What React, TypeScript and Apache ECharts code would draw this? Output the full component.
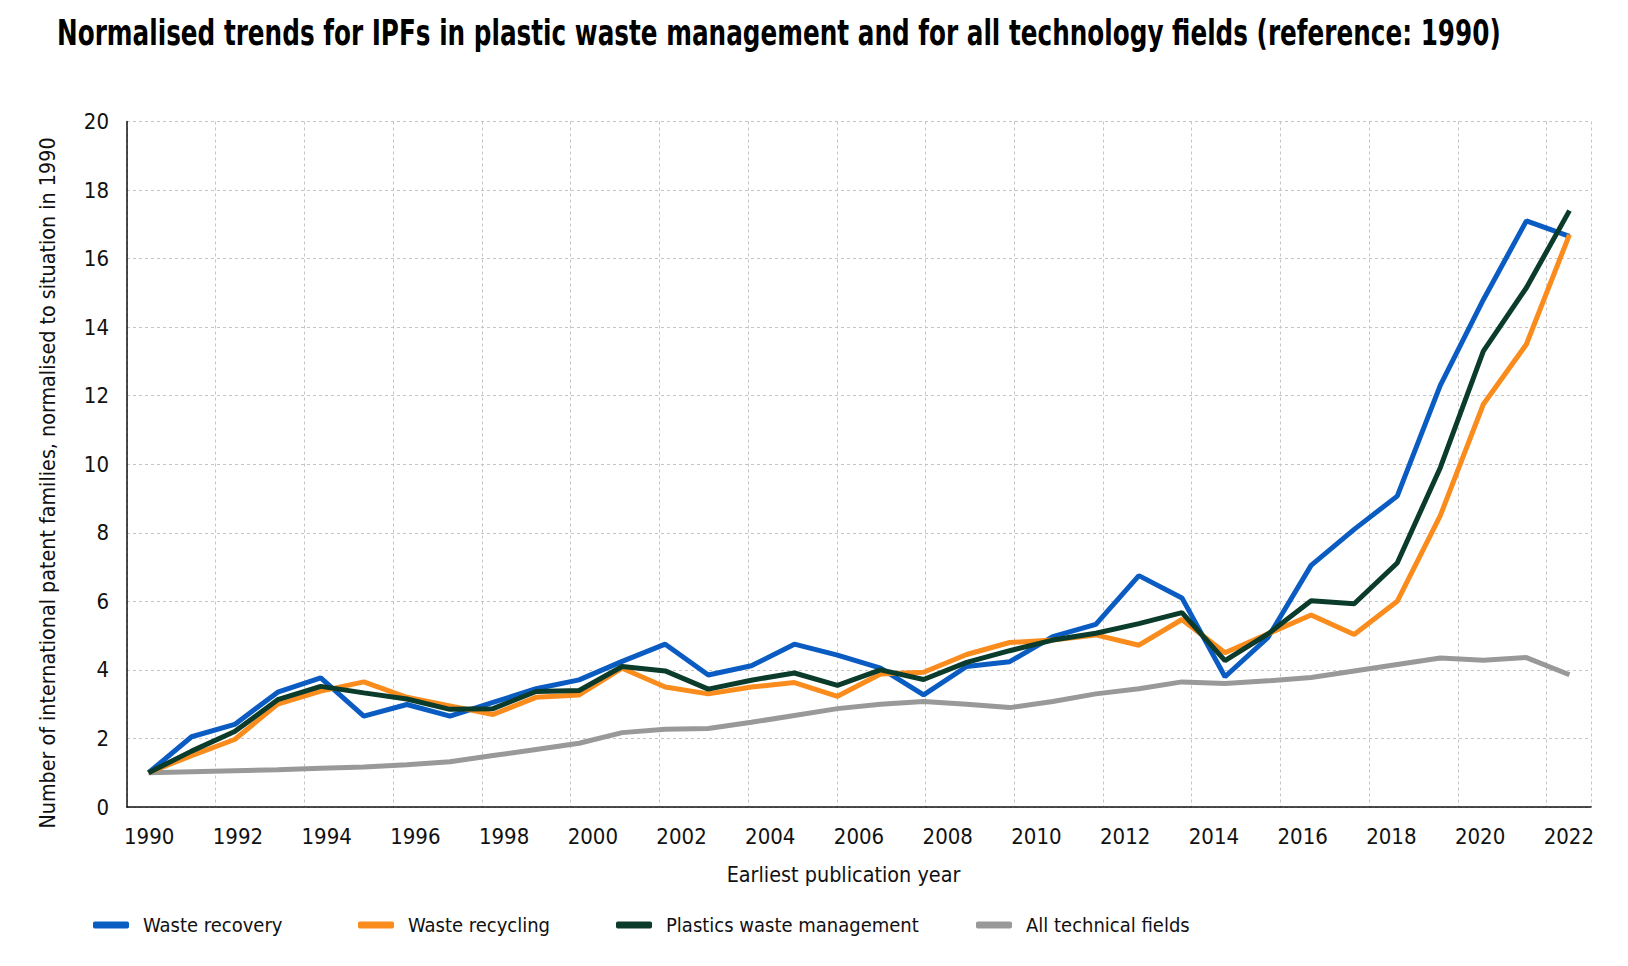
import { useEffect, useRef } from "react";
import * as echarts from "echarts";

// Points plotted (34 vertices per line)
const dataYears = [
  "1990", "1991", "1992", "1993", "1994", "1995", "1996", "1997", "1998", "1999",
  "2000", "2001", "2002", "2003", "2004", "2005", "2006", "2007", "2008", "2009",
  "2010", "2011", "2012", "2013", "2014", "2015", "2016", "2017", "2018", "2019",
  "2020", "2021", "2022", "2023",
];

// Year scale drawn under the plot
const axisYears = [
  "1990", "1991", "1992", "1993", "1994", "1995", "1996", "1997", "1998", "1999",
  "2000", "2001", "2002", "2003", "2004", "2005", "2006", "2007", "2008", "2009",
  "2010", "2011", "2012", "2013", "2014", "2015", "2016", "2017", "2018", "2019",
  "2020", "2021", "2022",
];

const wasteRecovery = [
  1.0, 2.05, 2.41, 3.35, 3.77, 2.65, 2.99, 2.65, 3.05, 3.45,
  3.71, 4.25, 4.75, 3.85, 4.12, 4.75, 4.43, 4.05, 3.27, 4.1,
  4.24, 4.97, 5.33, 6.75, 6.1, 3.8, 4.95, 7.05, 8.1, 9.07,
  12.3, 14.8, 17.1, 16.65,
];

const wasteRecycling = [
  1.0, 1.5, 1.97, 3.0, 3.38, 3.65, 3.2, 2.95, 2.7, 3.2,
  3.27, 4.05, 3.5, 3.3, 3.5, 3.63, 3.23, 3.88, 3.93, 4.45,
  4.8, 4.87, 5.02, 4.72, 5.47, 4.5, 5.05, 5.6, 5.03, 6.0,
  8.5, 11.75, 13.5, 16.7,
];

const plasticsWasteManagement = [
  1.0, 1.63, 2.2, 3.13, 3.52, 3.33, 3.15, 2.85, 2.87, 3.37,
  3.4, 4.1, 3.97, 3.44, 3.7, 3.91, 3.55, 4.0, 3.72, 4.22,
  4.56, 4.87, 5.07, 5.35, 5.67, 4.27, 5.05, 6.02, 5.93, 7.12,
  9.9, 13.3, 15.15, 17.4,
];

const allTechnicalFields = [
  1.0, 1.03, 1.06, 1.09, 1.13, 1.17, 1.23, 1.32, 1.5, 1.68,
  1.86, 2.17, 2.27, 2.29, 2.47, 2.67, 2.87, 3.0, 3.08, 3.0,
  2.9, 3.08, 3.3, 3.45, 3.65, 3.6, 3.68, 3.78, 3.97, 4.16,
  4.35, 4.28, 4.36, 3.86,
];

const seriesNames = [
  "Waste recovery",
  "Waste recycling",
  "Plastics waste management",
  "All technical fields",
];
const seriesValues = [wasteRecovery, wasteRecycling, plasticsWasteManagement, allTechnicalFields];
const seriesColors = ["#0b5cc2", "#f98c1c", "#0b3b2a", "#999999"];

const Y_MIN = 0;
const Y_MAX = 20;
const Y_STEP = 2;

const TITLE =
  "Normalised trends for IPFs in plastic waste management and for all technology fields (reference: 1990)";
const Y_NAME = "Number of international patent families, normalised to situation in 1990";
const X_NAME = "Earliest publication year";

const FONT = "'Liberation Sans Narrow', 'DejaVu Sans Condensed', 'Roboto Condensed', Roboto, sans-serif";
const TITLE_FONT = "bold 35px 'DejaVu Sans'";
const TITLE_WIDTH = 1445;
const legendLefts = [85, 350, 608, 968];

function measure(text: string, font: string): number {
  const ctx = document.createElement("canvas").getContext("2d");
  if (!ctx) return TITLE_WIDTH;
  ctx.font = font;
  return ctx.measureText(text).width;
}

export default function App() {
  const ref = useRef<HTMLDivElement>(null);

  useEffect(() => {
    if (!ref.current) return;
    const chart = echarts.init(ref.current, undefined, { renderer: "svg" });
    const titleScale = Math.min(1, TITLE_WIDTH / measure(TITLE, TITLE_FONT));
    const option: any = {
      animation: false,
      backgroundColor: "#ffffff",
      graphic: [
        {
          type: "text",
          x: 49,
          y: 25,
          scaleX: titleScale,
          style: {
            text: TITLE,
            font: TITLE_FONT,
            fill: "#000",
            align: "left",
            verticalAlign: "middle",
            textAlign: "left",
            textVerticalAlign: "middle",
          },
        },
        {
          type: "text",
          x: 39,
          y: 475,
          rotation: Math.PI / 2,
          style: {
            text: Y_NAME,
            fontFamily: FONT,
            fontSize: 21.3,
            fill: "#111",
            align: "center",
            verticalAlign: "middle",
            textAlign: "center",
            textVerticalAlign: "middle",
          },
        },
      ],
      legend: seriesNames.map((n, i) => ({
        data: [n],
        left: legendLefts[i],
        top: 907,
        padding: 0,
        icon: "roundRect",
        itemWidth: 36,
        itemHeight: 7,
        selectedMode: false,
        textStyle: { fontFamily: FONT, fontSize: 20, color: "#111", padding: [0, 0, 0, 9] },
      })),
      grid: { left: 119, top: 113.5, width: 1464, height: 685.5, containLabel: false },
      xAxis: [
        {
          type: "category",
          data: dataYears,
          boundaryGap: true,
          show: false,
        },
        {
          type: "category",
          data: axisYears,
          boundaryGap: true,
          position: "bottom",
          name: X_NAME,
          nameLocation: "middle",
          nameGap: 57,
          nameTextStyle: { fontFamily: FONT, fontSize: 21.4, color: "#111", padding: [0, 31, 0, 0] },
          axisLine: { show: true, lineStyle: { color: "#111", width: 1.5 } },
          axisTick: { show: false },
          axisLabel: {
            interval: 1,
            margin: 18,
            fontFamily: FONT,
            fontSize: 22,
            color: "#111",
          },
          splitLine: {
            show: true,
            interval: 1,
            lineStyle: { color: "#c4c4c4", width: 1, type: [3, 3] },
          },
        },
      ],
      yAxis: {
        type: "value",
        min: Y_MIN,
        max: Y_MAX,
        interval: Y_STEP,
        axisLine: { show: true, lineStyle: { color: "#111", width: 1.5 } },
        axisTick: { show: false },
        axisLabel: { margin: 18, fontFamily: FONT, fontSize: 22, color: "#111" },
        splitLine: { show: true, lineStyle: { color: "#c4c4c4", width: 1, type: [3, 3] } },
      },
      series: seriesNames.map((n, i) => ({
        name: n,
        type: "line",
        xAxisIndex: 0,
        data: seriesValues[i],
        symbol: "none",
        color: seriesColors[i],
        lineStyle: { color: seriesColors[i], width: 5 },
        z: i === 3 ? 1 : 2 + i,
      })),
    };
    chart.setOption(option);
    return () => chart.dispose();
  }, []);

  return <div ref={ref} style={{ width: 1612, height: 950 }} />;
}
